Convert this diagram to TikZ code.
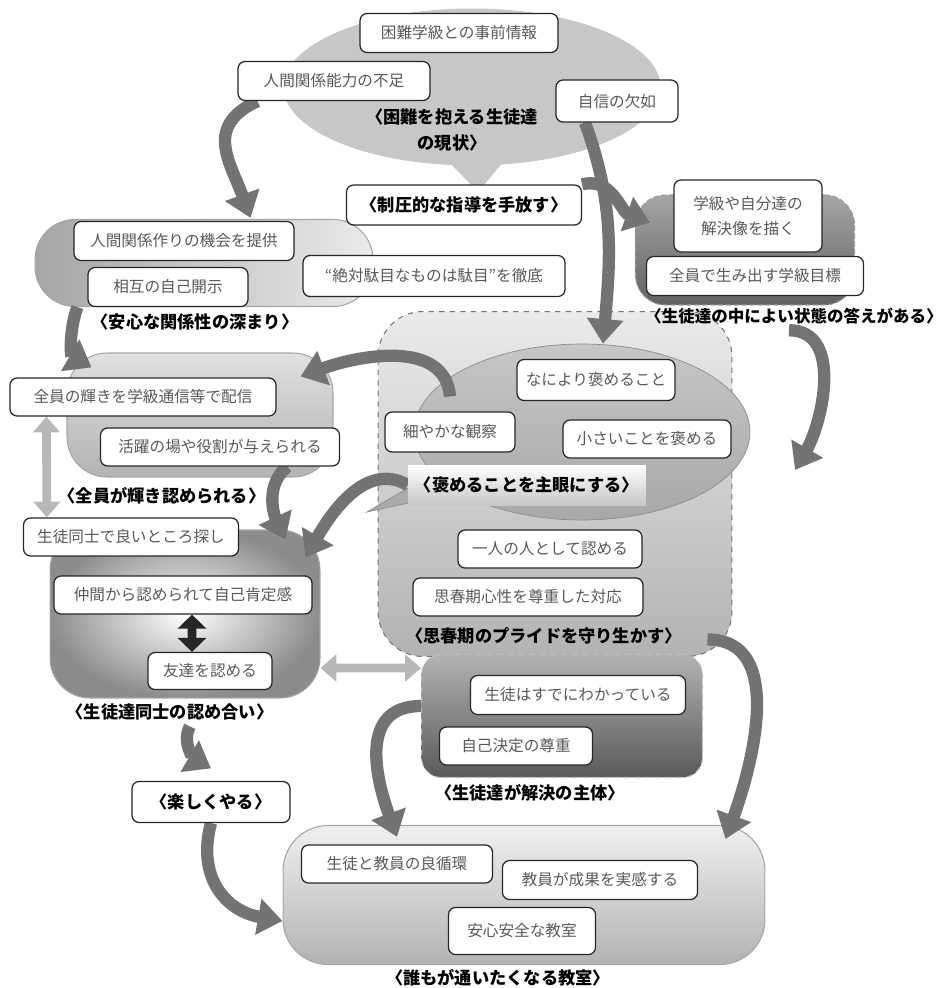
\documentclass[tikz,border=0pt]{standalone}
\usepackage{fontspec}
\newfontfamily\jp{Noto Sans CJK JP}
\usetikzlibrary{arrows.meta,shapes.callouts}
\pgfdeclarelayer{back}
\pgfdeclarelayer{mid}
\pgfsetlayers{back,mid,main}
\begin{document}
\begin{tikzpicture}[x=0.02cm,y=-0.02cm,
    item/.style={draw=black!85,line width=0.7pt,rounded corners=4pt,fill=white,minimum height=0.78cm,inner sep=1pt,align=center,font=\jp\fontsize{8.9}{14}\selectfont,text=black!65},
    lbl/.style={font=\jp\bfseries\fontsize{9.8}{14.5}\selectfont,text=black,align=center},
    lblbox/.style={item,lbl},
    zone/.style={draw=black!35,line width=0.6pt,rounded corners=0.8cm},
    flow/.style={draw=black!55,line width=7pt,-{Triangle[width=20pt,length=14pt]}},
    both/.style={draw=black!28,line width=5pt,{Triangle[width=15pt,length=9pt]}-{Triangle[width=15pt,length=9pt]}}]
  \useasboundingbox (0,0) rectangle (950,988);

  \begin{pgfonlayer}{back}
    \node[ellipse callout,fill=black!22,minimum width=7.54cm,minimum height=3.14cm,callout absolute pointer={(478,192)}] (current) at (472,87) {};
    \node[zone,minimum width=4.38cm,minimum height=2.2cm,rounded corners=0.6cm,dash pattern=on 3pt off 1.5pt,draw=black!40,top color=black!35,bottom color=black!62] (answer) at (745,250) {};
    \node[zone,minimum width=6.76cm,minimum height=1.74cm,left color=black!35,right color=black!8] (safety) at (204,263) {};
    \node[zone,minimum width=5.32cm,minimum height=2.48cm,top color=black!12,bottom color=black!30] (shine) at (200,415) {};
    \node[zone,minimum width=5.4cm,minimum height=3.36cm,inner color=white,outer color=black!45] (accept) at (185,614) {};
    \node[zone,minimum width=7.08cm,minimum height=6.9cm,rounded corners=0.9cm,dashed,draw=black!55,top color=black!8,bottom color=black!30] (pride) at (555,484) {};
    \node[ellipse callout,draw=black!45,top color=black!22,bottom color=black!35,minimum width=6.72cm,minimum height=3.52cm,callout absolute pointer={(367,512)}] (praise) at (582,432) {};
    \node[zone,minimum width=5.62cm,minimum height=2.46cm,rounded corners=0.4cm,dashed,draw=black!25,top color=black!30,bottom color=black!65] (subject) at (562,716) {};
    \node[zone,minimum width=9.64cm,minimum height=2.78cm,rounded corners=0.9cm,top color=black!6,bottom color=black!30] (school) at (524,895) {};
  \end{pgfonlayer}

  \node[item,minimum width=3.96cm] (info) at (459,33) {困難学級との事前情報};
  \node[item,minimum width=3.84cm] (social) at (334,81) {人間関係能力の不足};
  \node[item,minimum width=2.44cm,minimum height=0.84cm] (lack) at (617,101) {自信の欠如};
  \node[lbl] (currentlbl) at (452,130) {〈困難を抱える生徒達\\の現状〉};
  \node[lblbox,minimum width=4.7cm,minimum height=0.8cm] (release) at (464,205) {〈制圧的な指導を手放す〉};

  \node[item,minimum width=2.96cm,minimum height=1.44cm] (vision) at (748,216) {学級や自分達の\\解決像を描く};
  \node[item,minimum width=4.34cm] (classgoal) at (755,276) {全員で生み出す学級目標};
  \node[lbl,font=\jp\bfseries\fontsize{9.4}{14}\selectfont] (answerlbl) at (794,316) {〈生徒達の中によい状態の答えがある〉};

  \node[item,minimum width=4.4cm] (offer) at (184,241) {人間関係作りの機会を提供};
  \node[item,minimum width=3.2cm] (mutual) at (168,287) {相互の自己開示};
  \node[item,minimum width=5.24cm,minimum height=0.82cm] (rule) at (434,276) {“絶対駄目なものは駄目”を徹底};
  \node[lbl] (safetylbl) at (195,322) {〈安心な関係性の深まり〉};

  \node[item,minimum width=5.32cm,minimum height=0.76cm] (deliver) at (143,397) {全員の輝きを学級通信等で配信};
  \node[item,minimum width=4.78cm,minimum height=0.76cm] (active) at (220,447) {活躍の場や役割が与えられる};
  \node[lbl] (shinelbl) at (162,496) {〈全員が輝き認められる〉};

  \node[item,minimum width=4.3cm,minimum height=0.76cm] (search) at (131,537) {生徒同士で良いところ探し};
  \node[item,minimum width=5.16cm,minimum height=0.76cm] (peer) at (183,595) {仲間から認められて自己肯定感};
  \node[item,minimum width=2.48cm,minimum height=0.74cm] (friend) at (210,671) {友達を認める};
  \node[lbl] (acceptlbl) at (170,712) {〈生徒達同士の認め合い〉};

  \node[item,minimum width=3.16cm,minimum height=0.82cm] (above) at (596,380) {なにより褒めること};
  \node[item,minimum width=2.6cm,minimum height=0.8cm] (observe) at (450,432) {細やかな観察};
  \node[item,minimum width=3.36cm,minimum height=0.76cm] (small) at (647,439) {小さいことを褒める};
  \node[lbl,minimum width=4.76cm,minimum height=0.8cm,top color=white,bottom color=black!22] (praiselbl) at (527,485) {〈褒めることを主眼にする〉};
  \node[item,minimum width=3.68cm,minimum height=0.76cm] (person) at (550,549) {一人の人として認める};
  \node[item,minimum width=4.6cm,minimum height=0.76cm] (respect) at (528,597) {思春期心性を尊重した対応};
  \node[lbl] (pridelbl) at (544,636) {〈思春期のプライドを守り生かす〉};

  \node[item,minimum width=4.3cm] (know) at (578,695) {生徒はすでにわかっている};
  \node[item,minimum width=3.06cm,minimum height=0.76cm] (decide) at (516,746) {自己決定の尊重};
  \node[lbl] (subjectlbl) at (530,793) {〈生徒達が解決の主体〉};

  \node[lblbox,minimum width=3.16cm,minimum height=0.82cm] (fun) at (211,802) {〈楽しくやる〉};

  \node[item,minimum width=3.82cm,minimum height=0.76cm] (cycle) at (397,864) {生徒と教員の良循環};
  \node[item,minimum width=3.9cm] (feel) at (600,880) {教員が成果を実感する};
  \node[item,minimum width=2.94cm,minimum height=0.94cm] (safe) at (522,931) {安心安全な教室};
  \node[lbl] (schoollbl) at (498,978) {〈誰もが通いたくなる教室〉};

  \coordinate (turn) at (795,470);

  \begin{pgfonlayer}{mid}
    \draw[flow] ([xshift=0.4cm]social.south west) to[out=205,in=110,looseness=1.3] ([xshift=-0.88cm,yshift=0.06cm]offer.north east);
    \draw[flow] ([xshift=-0.64cm]lack.south) to[out=-70,in=85] ([xshift=0.42cm]praise.north);
    \draw[flow] (release.north east) to[out=15,in=160] ([xshift=0.3cm,yshift=0.55cm]answer.west);
    \draw[flow] ([xshift=-0.1cm]answerlbl.south) to[out=0,in=60] (turn);
    \draw[flow] ([xshift=-0.2cm]mutual.south west) to[out=250,in=150] ([xshift=0.5cm,yshift=-0.3cm]shine.north west);
    \draw[flow] ([yshift=0.3cm]observe.north) to[out=95,in=20] ([xshift=-0.66cm,yshift=-0.48cm]shine.north east);
    \draw[flow] ([xshift=-1.06cm]active.south east) to[out=220,in=115] ([xshift=-0.7cm,yshift=-0.2cm]accept.north east);
    \draw[flow] (praiselbl.west) to[out=150,in=60] ([xshift=-0.3cm,yshift=-0.56cm]accept.north east);
    \draw[flow] ([xshift=-0.5cm,yshift=0.35cm]pride.south east) to[out=0,in=70] ([xshift=-0.8cm,yshift=-0.28cm]school.north east);
    \draw[flow] ([xshift=0.4cm]acceptlbl.south) to[out=240,in=150] ([yshift=0.25cm]fun.north);
    \draw[flow] (fun.south) to[out=255,in=170,looseness=1.2] ([yshift=-0.52cm]school.west);
    \draw[flow] ([yshift=0.2cm]subject.west) to[out=180,in=110,looseness=1.2] ([yshift=0.15cm]cycle.north);
    \draw[both] ([yshift=-1.08cm]accept.east) -- ([yshift=0.96cm]subject.west);
    \draw[both] ([xshift=0.74cm]deliver.south west) -- ([xshift=0.48cm]search.north west);
  \end{pgfonlayer}
  \draw[draw=black!85,line width=5pt,{Triangle[width=16pt,length=8pt]}-{Triangle[width=16pt,length=8pt]}] ([xshift=0.18cm]peer.south) -- ([xshift=-0.36cm]friend.north);
\end{tikzpicture}
\end{document}
